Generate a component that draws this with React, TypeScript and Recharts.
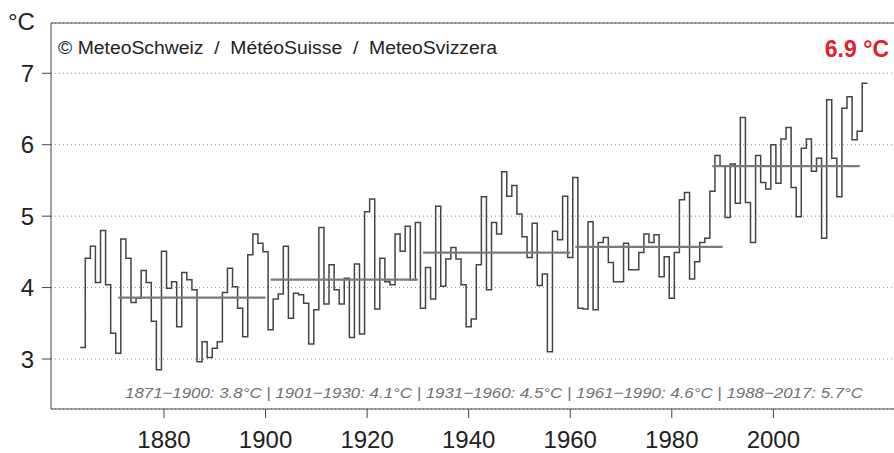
import { LineChart, Line, XAxis, YAxis, CartesianGrid, ReferenceLine } from 'recharts'

// annual mean temperature, 1864..2018 (°C)
const firstYear = 1864
const temps = [
  3.16, 4.41, 4.58, 4.07, 4.80, 4.04, 3.36, 3.08, 4.68, 4.41,
  3.79, 3.85, 4.24, 4.07, 3.53, 2.85, 4.51, 3.99, 4.08, 3.45,
  4.21, 4.11, 3.97, 2.96, 3.24, 3.02, 3.15, 3.24, 3.93, 4.27,
  4.01, 3.71, 3.31, 4.46, 4.75, 4.62, 4.50, 3.41, 3.84, 3.91,
  4.58, 3.57, 3.92, 3.90, 3.78, 3.21, 3.69, 4.84, 3.77, 4.32,
  3.97, 3.77, 4.13, 3.30, 4.33, 3.35, 5.06, 5.24, 3.70, 4.41,
  4.08, 4.04, 4.75, 4.51, 4.86, 4.11, 4.91, 3.71, 4.28, 3.84,
  5.14, 4.02, 4.40, 4.56, 4.40, 4.04, 3.45, 3.56, 4.32, 5.27,
  3.97, 4.91, 4.75, 5.62, 5.28, 5.43, 5.03, 4.71, 4.42, 4.90,
  4.03, 4.19, 3.10, 4.79, 4.67, 5.28, 4.42, 5.54, 3.71, 3.70,
  4.92, 3.69, 4.63, 4.70, 4.35, 4.08, 4.08, 4.62, 4.25, 4.25,
  4.49, 4.75, 4.63, 4.74, 4.15, 4.43, 3.85, 4.49, 5.23, 5.33,
  4.12, 4.36, 4.63, 4.69, 5.35, 5.85, 5.70, 4.98, 5.73, 5.18,
  6.38, 5.19, 4.63, 5.85, 5.47, 5.38, 6.00, 5.46, 6.08, 6.24,
  5.40, 4.99, 5.95, 6.08, 5.63, 5.81, 4.69, 6.63, 5.81, 5.27,
  6.51, 6.67, 6.07, 6.19, 6.86,
]

// 30-year normal periods
const periodStart = [1871, 1901, 1931, 1961, 1988]
const periodEnd = [1900, 1930, 1960, 1990, 2017]
const periodMean = [3.86, 4.11, 4.49, 4.57, 5.70]
const periodLabel = ['3.8', '4.1', '4.5', '4.6', '5.7']

const xTicks = [1880, 1900, 1920, 1940, 1960, 1980, 2000]
const yTicks = [3, 4, 5, 6, 7]

const xDomain = [1857.75, 2024.94]
const yDomain = [2.3, 7.704]

const font = 'Liberation Sans, Arial, Helvetica, sans-serif'

// each year is a full-width step centred on the year
const rows = temps.map((t, i) => ({ x: firstYear + i - 0.5, t }))
rows.push({ x: firstYear + temps.length - 0.5, t: temps[temps.length - 1] })

const lastValue = Math.round(temps[temps.length - 1] * 10) / 10
const normalsText = periodStart
  .map((s, i) => `${s}\u2212${periodEnd[i]}: ${periodLabel[i]}°C`)
  .join(' | ')

const nb = '\u00a0'

export default function App() {
  return (
    <div style={{ position: 'fixed', left: 0, top: 0, width: 894, height: 453, overflow: 'hidden', background: '#fff', fontFamily: font }}>
      <LineChart width={910} height={453} data={rows} margin={{ top: 23, right: 10, bottom: 0, left: 0 }}>
        <CartesianGrid vertical={false} stroke="#8a8a8a" strokeDasharray="1 3" />
        <XAxis
          dataKey="x"
          type="number"
          domain={xDomain}
          allowDataOverflow
          ticks={xTicks}
          height={44}
          tickSize={9}
          tickMargin={13}
          tick={{ fontSize: 24, fill: '#222', fontFamily: font }}
          tickLine={{ stroke: '#444' }}
          axisLine={{ stroke: '#444' }}
        />
        <YAxis
          type="number"
          domain={yDomain}
          allowDataOverflow
          ticks={yTicks}
          width={51}
          tickSize={9}
          tickMargin={8}
          tick={{ fontSize: 24, fill: '#222', fontFamily: font }}
          tickLine={{ stroke: '#444' }}
          axisLine={{ stroke: '#444' }}
        />
        <ReferenceLine y={yDomain[1]} stroke="#444" />
        <Line
          type="stepAfter"
          dataKey="t"
          stroke="#444"
          strokeWidth={1.5}
          dot={false}
          isAnimationActive={false}
        />
        {periodStart.map((s, i) => (
          <ReferenceLine
            key={s}
            segment={[{ x: s, y: periodMean[i] }, { x: periodEnd[i], y: periodMean[i] }]}
            stroke="#7a7a7a"
            strokeWidth={2.2}
            ifOverflow="visible"
          />
        ))}
      </LineChart>
      <svg width={894} height={453} style={{ position: 'absolute', left: 0, top: 0, pointerEvents: 'none' }}>
        <text x={8} y={30} fontSize={24} fill="#222" fontFamily={font}>°C</text>
        <text x={58} y={54} fontSize={18} fill="#222" fontFamily={font} textLength={439} lengthAdjust="spacingAndGlyphs">
          {`©${nb}MeteoSchweiz${nb}${nb}/${nb}${nb}MétéoSuisse${nb}${nb}/${nb}${nb}MeteoSvizzera`}
        </text>
        <text x={889} y={57} fontSize={23} fontWeight="bold" fill="#e3202b" fontFamily={font} textAnchor="end">
          {`${lastValue.toFixed(1)} °C`}
        </text>
        <text x={125} y={398} fontSize={15} fontStyle="italic" fill="#707070" fontFamily={font} textLength={738} lengthAdjust="spacingAndGlyphs">
          {normalsText}
        </text>
      </svg>
    </div>
  )
}
